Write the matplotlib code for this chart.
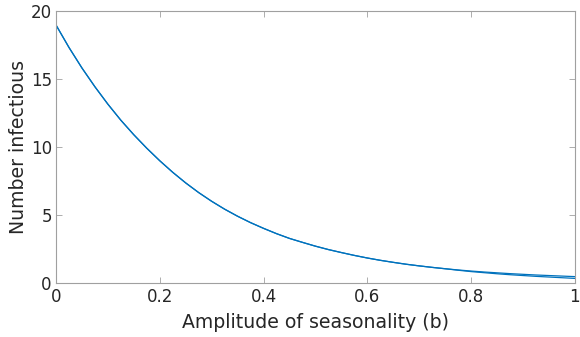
import matplotlib
matplotlib.use("Agg")
import matplotlib.pyplot as plt

# amplitude of seasonality (b)
amplitude = [0.0, 0.025, 0.05, 0.075, 0.1, 0.125, 0.15, 0.175, 0.2, 0.225,
             0.25, 0.275, 0.3, 0.325, 0.35, 0.375, 0.4, 0.425, 0.45, 0.475,
             0.5, 0.525, 0.55, 0.575, 0.6, 0.625, 0.65, 0.675, 0.7, 0.725,
             0.75, 0.775, 0.8, 0.825, 0.85, 0.875, 0.9, 0.925, 0.95, 0.975, 1.0]
# two runs, nearly identical until the tail
infectious_a = [19.0, 17.35, 15.84, 14.46, 13.18, 12.0, 10.93, 9.94, 9.02, 8.17,
                7.39, 6.68, 6.04, 5.46, 4.94, 4.47, 4.05, 3.66, 3.31, 3.02,
                2.74, 2.49, 2.27, 2.06, 1.87, 1.7, 1.55, 1.41, 1.29, 1.18,
                1.08, 0.99, 0.91, 0.84, 0.78, 0.72, 0.67, 0.62, 0.58, 0.54, 0.5]
infectious_b = [19.0, 17.35, 15.84, 14.46, 13.18, 12.0, 10.93, 9.94, 9.02, 8.17,
                7.39, 6.68, 6.04, 5.46, 4.94, 4.47, 4.05, 3.66, 3.31, 3.02,
                2.74, 2.49, 2.27, 2.06, 1.87, 1.7, 1.55, 1.41, 1.29, 1.18,
                1.08, 0.97, 0.87, 0.79, 0.71, 0.64, 0.58, 0.52, 0.47, 0.42, 0.37]

LINE_COLOR = "#0072BD"
AXIS_COLOR = "#a0a0a0"
TEXT_COLOR = "#262626"

fig = plt.figure(figsize=(5.8, 3.37), dpi=100)
ax = fig.add_axes([0.0966, 0.159, 0.8944, 0.807])

ax.plot(amplitude, infectious_a, color=LINE_COLOR, linewidth=0.9)
ax.plot(amplitude, infectious_b, color=LINE_COLOR, linewidth=0.9)

ax.set_xlim(0, 1)
ax.set_ylim(0, 20)
ax.set_xticks([0, 0.2, 0.4, 0.6, 0.8, 1])
ax.set_xticklabels(["0", "0.2", "0.4", "0.6", "0.8", "1"])
ax.set_yticks([0, 5, 10, 15, 20])

for s in ax.spines.values():
    s.set_color(AXIS_COLOR)
    s.set_linewidth(0.8)

ax.tick_params(direction="in", top=True, right=True, length=4, width=0.6,
               color=AXIS_COLOR, labelcolor=TEXT_COLOR, labelsize=12, pad=3)

ax.set_xlabel("Amplitude of seasonality (b)", fontsize=13.6, color=TEXT_COLOR, labelpad=5)
ax.set_ylabel("Number infectious", fontsize=13.6, color=TEXT_COLOR, labelpad=2)

fig.savefig("out.png", dpi=100)
